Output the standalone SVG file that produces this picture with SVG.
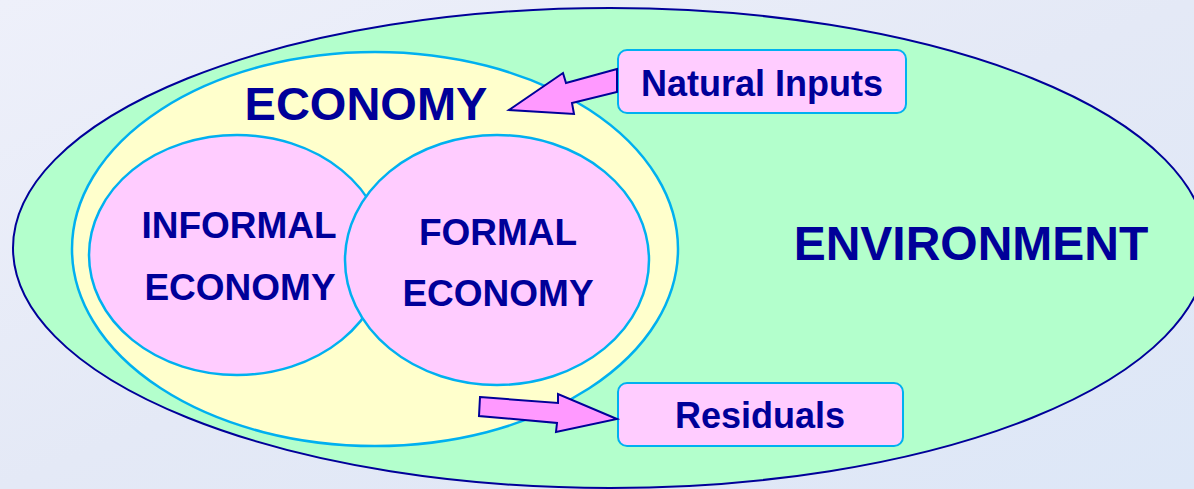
<svg xmlns="http://www.w3.org/2000/svg" width="1194" height="489" viewBox="0 0 1194 489">
<defs>
<linearGradient id="bg" x1="0" y1="0" x2="1" y2="1">
<stop offset="0" stop-color="#eef0fa"/>
<stop offset="0.5" stop-color="#e4e9f6"/>
<stop offset="1" stop-color="#dde7f7"/>
</linearGradient>
</defs>
<style>
.t{font-family:"Liberation Sans",Arial,sans-serif;font-weight:bold;fill:#000099;text-anchor:middle}
.cy{stroke:#00b0f0;stroke-width:2.5}
.arr{fill:#ff99ff;stroke:#000099;stroke-width:2;stroke-linejoin:miter}
.box{fill:#ffccff;stroke:#00b0f0;stroke-width:2}
</style>
<rect width="1194" height="489" fill="url(#bg)"/>
<g id="environment">
<ellipse cx="610" cy="248" rx="597" ry="240" fill="#b3ffcc" stroke="#000099" stroke-width="2"/>
<text class="t" x="971" y="260" font-size="48">ENVIRONMENT</text>
</g>
<g id="economy">
<ellipse cx="375" cy="249" rx="303" ry="197" fill="#ffffcc" class="cy"/>
<text class="t" x="366" y="120" font-size="47">ECONOMY</text>
</g>
<g id="informal">
<ellipse cx="237" cy="255" rx="148" ry="120" fill="#ffccff" class="cy"/>
<text class="t" x="239" y="238" font-size="37">INFORMAL</text>
<text class="t" x="240" y="300" font-size="37">ECONOMY</text>
</g>
<g id="formal">
<ellipse cx="497" cy="260" rx="152" ry="125" fill="#ffccff" class="cy"/>
<text class="t" x="498" y="245" font-size="37">FORMAL</text>
<text class="t" x="498" y="306" font-size="37">ECONOMY</text>
</g>
<g id="natural-inputs">
<rect class="box" x="618" y="50" width="288" height="63" rx="9"/>
<text class="t" x="762" y="96" font-size="36">Natural Inputs</text>
</g>
<g id="residuals">
<rect class="box" x="618" y="383" width="285" height="63" rx="9"/>
<text class="t" x="760" y="428" font-size="36">Residuals</text>
</g>
<g id="connectors">
<polygon class="arr" points="617,69 566,83 563,73 509,110 574,114 572,103 617,92"/>
<polygon class="arr" points="480,397 558,403 558,394 617,419 556,432 557,423 479,416"/>
</g>
</svg>
